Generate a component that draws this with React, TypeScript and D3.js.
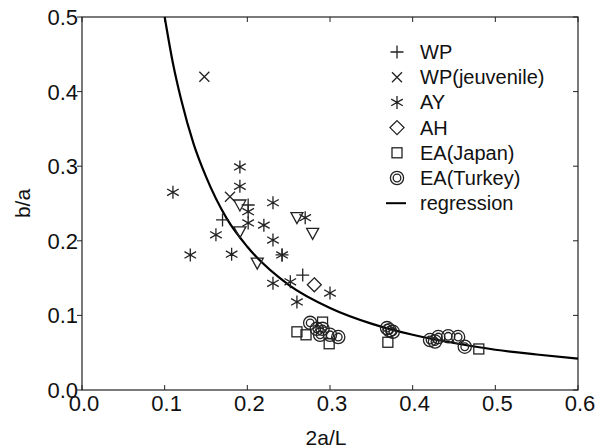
import * as d3 from 'd3'
import { useEffect, useRef } from 'react'

// data (x = 2a/L, y = b/a)
const wpData: [number, number][] = [
  [0.170, 0.228], [0.201, 0.248], [0.267, 0.154], [0.242, 0.181],
]
const wpJuvData: [number, number][] = [
  [0.148, 0.420], [0.179, 0.259],
]
const ayData: [number, number][] = [
  [0.110, 0.265], [0.131, 0.181], [0.191, 0.299], [0.191, 0.273],
  [0.231, 0.251], [0.201, 0.239], [0.270, 0.231], [0.201, 0.224],
  [0.220, 0.221], [0.162, 0.208], [0.231, 0.201], [0.181, 0.182],
  [0.242, 0.181], [0.231, 0.143], [0.252, 0.145], [0.300, 0.130],
  [0.260, 0.118],
]
const ahData: [number, number][] = [[0.281, 0.141]]
const triData: [number, number][] = [
  [0.191, 0.248], [0.260, 0.231], [0.279, 0.210], [0.191, 0.212], [0.212, 0.170],
]
const eaJapanData: [number, number][] = [
  [0.260, 0.078], [0.271, 0.074], [0.291, 0.091], [0.299, 0.062],
  [0.370, 0.064], [0.480, 0.055],
]
const eaTurkeyData: [number, number][] = [
  [0.276, 0.090], [0.284, 0.082], [0.291, 0.082], [0.288, 0.074],
  [0.300, 0.074], [0.310, 0.071],
  [0.369, 0.083], [0.372, 0.080], [0.376, 0.078],
  [0.421, 0.067], [0.427, 0.065], [0.431, 0.071], [0.443, 0.072],
  [0.455, 0.071], [0.463, 0.058],
]
// regression curve
const regressionData: [number, number][] = [
  [0.1, 0.5], [0.11, 0.438], [0.12, 0.389], [0.135, 0.33], [0.15, 0.286],
  [0.175, 0.23], [0.2, 0.192], [0.25, 0.141], [0.3, 0.110], [0.35, 0.089],
  [0.4, 0.074], [0.45, 0.063], [0.5, 0.054], [0.55, 0.0476], [0.6, 0.042],
]

const xTicks = [0, 0.1, 0.2, 0.3, 0.4, 0.5, 0.6]
const yTicks = [0, 0.1, 0.2, 0.3, 0.4, 0.5]

const legendItems = [
  { label: 'WP', shape: 'plus' },
  { label: 'WP(jeuvenile)', shape: 'cross' },
  { label: 'AY', shape: 'star' },
  { label: 'AH', shape: 'diamond' },
  { label: 'EA(Japan)', shape: 'square' },
  { label: 'EA(Turkey)', shape: 'dcircle' },
  { label: 'regression', shape: 'line' },
]

const markStroke = '#222'

function drawShape(g: d3.Selection<SVGGElement, unknown, null, undefined>, shape: string) {
  const s = (el: any) => el.attr('fill', 'none').attr('stroke', markStroke).attr('stroke-width', 1.3)
  if (shape === 'plus') {
    s(g.append('path').attr('d', 'M-6.5,0H6.5M0,-6.5V6.5'))
  } else if (shape === 'cross') {
    s(g.append('path').attr('d', 'M-5,-5L5,5M-5,5L5,-5'))
  } else if (shape === 'star') {
    s(g.append('path').attr('d', 'M0,-6.5V6.5M-5.8,-3.3L5.8,3.3M-5.8,3.3L5.8,-3.3'))
  } else if (shape === 'diamond') {
    s(g.append('path').attr('d', 'M0,-7L7,0L0,7L-7,0Z'))
  } else if (shape === 'square') {
    s(g.append('rect').attr('x', -5).attr('y', -5).attr('width', 10).attr('height', 10))
  } else if (shape === 'dcircle') {
    s(g.append('circle').attr('r', 6.6))
    s(g.append('circle').attr('r', 3.8))
  } else if (shape === 'tri') {
    s(g.append('path').attr('d', 'M-6,-5H6L0,6Z'))
  } else if (shape === 'line') {
    g.append('line').attr('x1', -11).attr('x2', 9).attr('stroke', '#000').attr('stroke-width', 2)
  }
}

const App = () => {
  const ref = useRef<SVGSVGElement>(null)

  useEffect(() => {
    const svg = d3.select(ref.current)
    svg.selectAll('*').remove()

    const margin = { top: 17, right: 29, bottom: 58, left: 82 }
    const width = 607 - margin.left - margin.right
    const height = 448 - margin.top - margin.bottom

    const x = d3.scaleLinear().domain([0, 0.6]).range([0, width])
    const y = d3.scaleLinear().domain([0, 0.5]).range([height, 0])

    const g = svg.append('g').attr('transform', `translate(${margin.left},${margin.top})`)

    const font = 'Arial, "Liberation Sans", sans-serif'

    // frame
    g.append('rect')
      .attr('width', width).attr('height', height)
      .attr('fill', 'none').attr('stroke', '#222').attr('stroke-width', 1.2)

    // ticks
    g.selectAll('.xt').data(xTicks).enter().append('line')
      .attr('x1', d => x(d)).attr('x2', d => x(d))
      .attr('y1', height).attr('y2', height - 5)
      .attr('stroke', '#222')
    g.selectAll('.xtt').data(xTicks).enter().append('line')
      .attr('x1', d => x(d)).attr('x2', d => x(d))
      .attr('y1', 0).attr('y2', 5)
      .attr('stroke', '#222')
    g.selectAll('.yt').data(yTicks).enter().append('line')
      .attr('x1', -5).attr('x2', 0)
      .attr('y1', d => y(d)).attr('y2', d => y(d))
      .attr('stroke', '#222')
    g.selectAll('.ytr').data(yTicks).enter().append('line')
      .attr('x1', width - 5).attr('x2', width)
      .attr('y1', d => y(d)).attr('y2', d => y(d))
      .attr('stroke', '#222')

    // tick labels
    g.selectAll('.xl').data(xTicks).enter().append('text')
      .attr('x', d => x(d) + 2).attr('y', height + 21)
      .attr('text-anchor', 'middle')
      .attr('font-family', font).attr('font-size', 22)
      .attr('fill', '#111')
      .text(d => d3.format('.1f')(d))
    g.selectAll('.yl').data(yTicks).enter().append('text')
      .attr('x', -4).attr('y', d => y(d) + 8)
      .attr('text-anchor', 'end')
      .attr('font-family', font).attr('font-size', 22)
      .attr('fill', '#111')
      .text(d => d3.format('.1f')(d))

    // axis titles
    g.append('text')
      .attr('x', width / 2 - 4).attr('y', height + 55)
      .attr('text-anchor', 'middle')
      .attr('font-family', font).attr('font-size', 21)
      .attr('fill', '#111')
      .text('2a/L')
    g.append('text')
      .attr('transform', `translate(${-52},${height / 2}) rotate(-90)`)
      .attr('text-anchor', 'middle')
      .attr('font-family', font).attr('font-size', 21)
      .attr('fill', '#111')
      .text('b/a')

    // regression
    const line = d3.line<[number, number]>()
      .x(d => x(d[0]))
      .y(d => y(d[1]))
      .curve(d3.curveMonotoneX)
    g.append('path')
      .datum(regressionData)
      .attr('fill', 'none')
      .attr('stroke', '#000')
      .attr('stroke-width', 2.2)
      .attr('d', line)

    // scatter series
    const series: { data: [number, number][]; shape: string }[] = [
      { data: eaJapanData, shape: 'square' },
      { data: eaTurkeyData, shape: 'dcircle' },
      { data: triData, shape: 'tri' },
      { data: ahData, shape: 'diamond' },
      { data: ayData, shape: 'star' },
      { data: wpJuvData, shape: 'cross' },
      { data: wpData, shape: 'plus' },
    ]
    series.forEach(sr => {
      sr.data.forEach(d => {
        const m = g.append('g').attr('transform', `translate(${x(d[0])},${y(d[1])})`)
        drawShape(m as any, sr.shape)
      })
    })

    // legend
    const lg = svg.append('g').attr('transform', 'translate(397,52)')
    legendItems.forEach((it, i) => {
      const row = lg.append('g').attr('transform', `translate(0,${i * 25.2})`)
      drawShape(row as any, it.shape)
      row.append('text')
        .attr('x', 23).attr('y', 7)
        .attr('font-family', font).attr('font-size', 20)
        .attr('fill', '#111')
        .text(it.label)
    })
  }, [])

  return (
    <div style={{ position: 'absolute', left: 0, top: 0 }}>
      <svg ref={ref} width={607} height={448} style={{ display: 'block', background: '#fff' }} />
    </div>
  )
}

export default App
